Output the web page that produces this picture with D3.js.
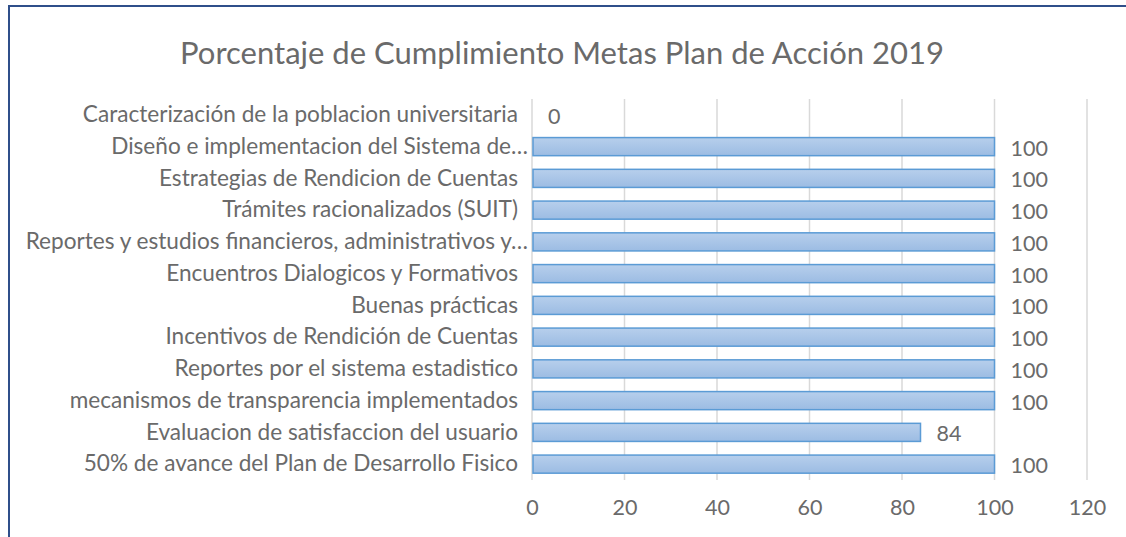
<!DOCTYPE html>
<html>
<head>
<meta charset="utf-8">
<script src="https://cdn.jsdelivr.net/npm/d3@7"></script>
<style>
  body { margin: 0; background: #fff; }
  text { font-family: Lato, sans-serif; fill: #6a6a6a; }
</style>
</head>
<body>
<div id="chart"></div>
<script>
// Data
const categories = [
  "Caracterización de la poblacion universitaria",
  "Diseño e implementacion del Sistema de…",
  "Estrategias de Rendicion de Cuentas",
  "Trámites racionalizados (SUIT)",
  "Reportes y estudios financieros, administrativos y…",
  "Encuentros Dialogicos y Formativos",
  "Buenas prácticas",
  "Incentivos de Rendición de Cuentas",
  "Reportes por el sistema estadistico",
  "mecanismos de transparencia implementados ",
  "Evaluacion de satisfaccion del usuario",
  "50% de avance del Plan de Desarrollo Fisico"
];
const values = [0, 100, 100, 100, 100, 100, 100, 100, 100, 100, 84, 100];
const xTicks = [0, 20, 40, 60, 80, 100, 120];
const title = "Porcentaje de Cumplimiento Metas Plan de Acción 2019";

// Dimensions
const width = 1126;
const height = 537;
const plot = { left: 532, right: 1087, top: 99, bottom: 480 };

const svg = d3.select("#chart")
  .append("svg")
  .attr("width", width)
  .attr("height", height);

// Bar gradient
const grad = svg.append("defs").append("linearGradient")
  .attr("id", "barGrad")
  .attr("x1", 0).attr("y1", 0).attr("x2", 0).attr("y2", 1);
grad.append("stop").attr("offset", "0%").attr("stop-color", "#b7cfec");
grad.append("stop").attr("offset", "100%").attr("stop-color", "#9cbce3");

// Chart border (cropped at right and bottom)
svg.append("rect")
  .attr("x", 9)
  .attr("y", 6)
  .attr("width", width + 20)
  .attr("height", height + 20)
  .attr("fill", "none")
  .attr("stroke", "#2f4f8a")
  .attr("stroke-width", 2);

// Scales
const x = d3.scaleLinear().domain([0, 120]).range([plot.left, plot.right]);
const y = d3.scaleBand()
  .domain(categories)
  .range([plot.top, plot.bottom])
  .paddingInner(0.43)
  .paddingOuter(0.215);

// Title
svg.append("text")
  .attr("x", 562)
  .attr("y", 52)
  .attr("text-anchor", "middle")
  .attr("dominant-baseline", "central")
  .style("font-size", "31px")
  .text(title);

// Gridlines
svg.append("g")
  .selectAll("line")
  .data(xTicks)
  .join("line")
  .attr("x1", (d) => x(d))
  .attr("x2", (d) => x(d))
  .attr("y1", plot.top)
  .attr("y2", plot.bottom)
  .attr("stroke", "#d9d9d9")
  .attr("stroke-width", 1.5);

// Axis labels
const xAxis = svg.append("g")
  .attr("transform", `translate(0, ${plot.bottom})`)
  .call(d3.axisBottom(x).tickValues(xTicks).tickSize(0).tickPadding(20));
xAxis.select(".domain").remove();
xAxis.selectAll("text")
  .style("font-size", "21.5px")
  .style("font-family", "Lato, sans-serif")
  .attr("fill", "#6a6a6a");

const yAxis = svg.append("g")
  .attr("transform", `translate(${plot.left}, 0)`)
  .call(d3.axisLeft(y).tickSize(0).tickPadding(14));
yAxis.select(".domain").remove();
yAxis.selectAll("text")
  .style("font-size", "22.6px")
  .style("font-family", "Lato, sans-serif")
  .attr("fill", "#6a6a6a")
  // truncated labels sit closer to the axis
  .attr("x", (d) => (d.endsWith("…") ? -4 : -14));

// Bars
svg.append("g")
  .selectAll("rect")
  .data(values)
  .join("rect")
  .attr("x", x(0) + 1)
  .attr("y", (d, i) => y(categories[i]))
  .attr("width", (d) => Math.max(0, x(d) - x(0) - 1))
  .attr("height", y.bandwidth())
  .attr("fill", "url(#barGrad)")
  .attr("stroke", "#5b9bd5")
  .attr("stroke-width", (d) => (d > 0 ? 1.5 : 0));

// Value labels
svg.append("g")
  .selectAll("text")
  .data(values)
  .join("text")
  .attr("x", (d) => x(d) + 16)
  .attr("y", (d, i) => y(categories[i]) + y.bandwidth() / 2 + 1)
  .attr("dominant-baseline", "central")
  .style("font-size", "21.5px")
  .text((d) => d);
</script>
</body>
</html>
